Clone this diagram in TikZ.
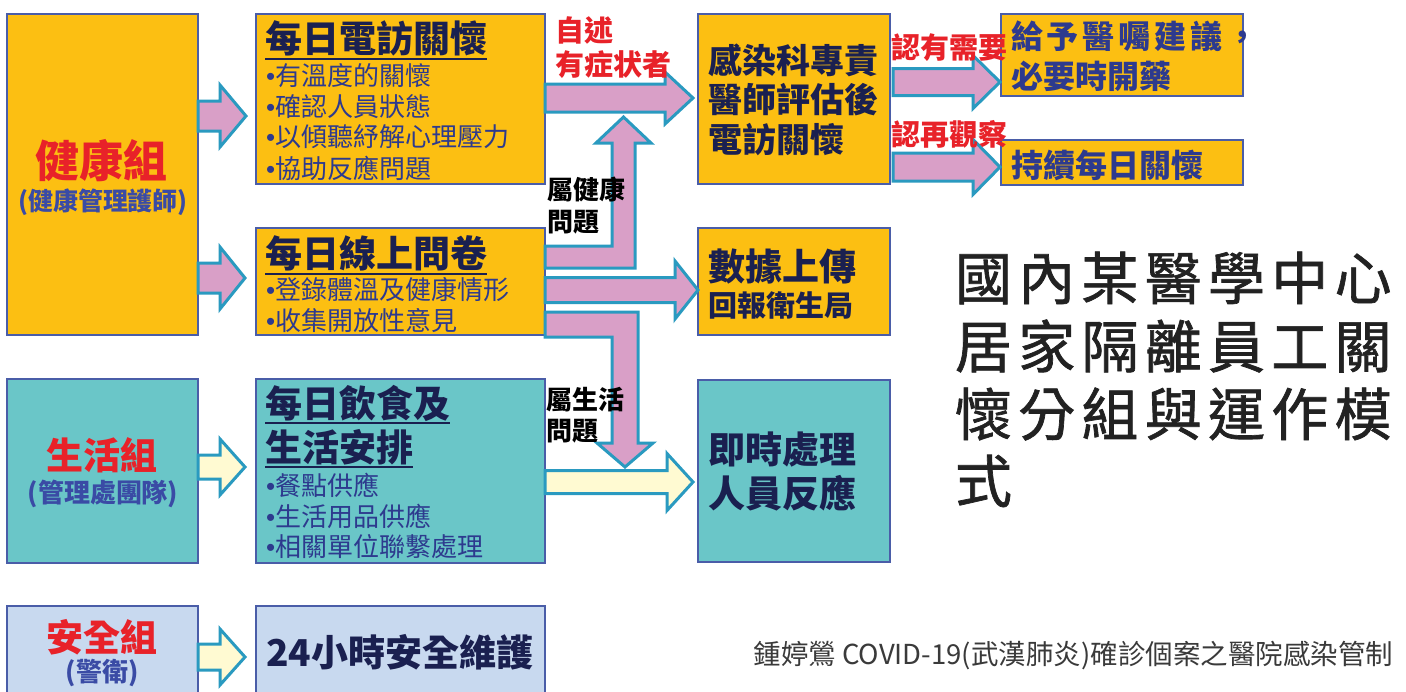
\documentclass[tikz,border=0pt]{standalone}
\usepackage{fontspec}
\setmainfont{Noto Sans CJK TC}
\newfontfamily\titlefont[FakeBold=1.2,LetterSpace=11]{Noto Sans CJK TC}
\newfontfamily\spacedfont[LetterSpace=12]{Noto Sans CJK TC}
\newfontfamily\dotfont{Liberation Sans}
\usetikzlibrary{calc}
\definecolor{orangebox}{HTML}{FCBF12}
\definecolor{tealbox}{HTML}{6AC6C8}
\definecolor{bluebox}{HTML}{C8D9EF}
\definecolor{boxline}{HTML}{4A5DA8}
\definecolor{pinkfill}{HTML}{D99FC7}
\definecolor{yelfill}{HTML}{FFFAD2}
\definecolor{arrowline}{HTML}{2A9AC0}
\definecolor{redtxt}{HTML}{E82229}
\definecolor{navytxt}{HTML}{1A2050}
\definecolor{bultxt}{HTML}{2D3A8E}
\definecolor{subtxt}{HTML}{3A4BA5}
\definecolor{titletxt}{HTML}{222222}
\definecolor{foottxt}{HTML}{3A3A3A}
\newcommand\fs[1]{\fontsize{#1}{#1}\selectfont}
\newcommand\bdot{{\dotfont •}}
% straight block arrow: style, from point, tip point, y centre, shaft half, head half, head length
\newcommand\barrow[7]{%
  \draw[#1] let \p1=(#2), \p2=(#3) in
    (\x1,#4+#5) -- (\x2-#7,#4+#5) -- (\x2-#7,#4+#6) -- (\x2,#4)
    -- (\x2-#7,#4-#6) -- (\x2-#7,#4-#5) -- (\x1,#4-#5) -- cycle;}
\tikzset{
  box/.style={draw=boxline, line width=1.3pt, anchor=north west, inner sep=0pt, outer sep=0pt},
  t/.style={inner sep=0pt, outer sep=0pt, anchor=west},
  c/.style={inner sep=0pt, outer sep=0pt, anchor=center},
  pinkarrow/.style={fill=pinkfill, draw=arrowline, line width=3pt, line join=miter},
  yelarrow/.style={fill=yelfill, draw=arrowline, line width=3pt, line join=miter},
  ul/.style={draw=navytxt, line width=2.4pt},
  head/.style={text=navytxt, font=\bfseries\fs{37}},
  bul/.style={text=bultxt, font=\fs{26}},
  redlab/.style={text=redtxt, font=\bfseries\fs{29}},
  blacklab/.style={text=black, font=\bfseries\fs{26}},
  advtxt/.style={text=bultxt, font=\bfseries\fs{32}},
}
\begin{document}
\begin{tikzpicture}[x=1pt,y=1pt]
\useasboundingbox (0,0) rectangle (1406,-691);
\fill[white] (0,0) rectangle (1406,-691);
\clip (0,0) rectangle (1406,-691);

% boxes
\node[box, fill=orangebox, minimum width=191, minimum height=321] (hz) at (7,-14) {};
\node[box, fill=tealbox, minimum width=191, minimum height=184] (sh) at (7,-379) {};
\node[box, fill=bluebox, minimum width=191, minimum height=110] (aq) at (7,-606) {};
\node[box, fill=orangebox, minimum width=289, minimum height=170] (tel) at (256,-14) {};
\node[box, fill=orangebox, minimum width=289, minimum height=107] (onl) at (256,-228) {};
\node[box, fill=tealbox, minimum width=289, minimum height=184] (food) at (256,-379) {};
\node[box, fill=bluebox, minimum width=289, minimum height=110] (sec) at (256,-606) {};
\node[box, fill=orangebox, minimum width=192, minimum height=170] (inf) at (698,-14) {};
\node[box, fill=orangebox, minimum width=192, minimum height=107] (data) at (698,-228) {};
\node[box, fill=tealbox, minimum width=192, minimum height=182] (resp) at (698,-380) {};
\node[box, fill=orangebox, minimum width=242, minimum height=82] (adv) at (1001,-14) {};
\node[box, fill=orangebox, minimum width=242, minimum height=45] (cont) at (1001,-140) {};

% block arrows
\barrow{pinkarrow}{hz.east}{[xshift=-10pt]tel.west}{-116}{15}{31}{26}
\barrow{pinkarrow}{hz.east}{[xshift=-11pt]onl.west}{-278}{15}{31}{25}
\barrow{yelarrow}{sh.east}{[xshift=-11pt]food.west}{-467}{12}{28}{25}
\barrow{yelarrow}{aq.east}{[xshift=-11pt]sec.west}{-657}{13}{28}{25}
\barrow{pinkarrow}{tel.east}{[xshift=-5pt]inf.west}{-98}{14}{26}{28}
\barrow{pinkarrow}{onl.east}{data.west}{-290}{12.5}{29}{23}
\barrow{yelarrow}{food.east}{[xshift=-5pt]resp.west}{-482}{11.5}{28.5}{26}
\barrow{pinkarrow}{[xshift=3pt]inf.east}{[xshift=-1pt]adv.west}{-82}{13.5}{26.5}{27}
\barrow{pinkarrow}{[xshift=3pt]inf.east}{[xshift=-1pt]cont.west}{-167}{14}{27.5}{27}
% elbow arrows
\draw[pinkarrow] let \p1=(onl.east) in
  (\x1,-246) -- (612,-246) -- (612,-143) -- (596,-143) -- (623.5,-117)
  -- (651,-143) -- (635,-143) -- (635,-268) -- (\x1,-268) -- cycle;
\draw[pinkarrow] let \p1=(onl.east) in
  (\x1,-312) -- (638,-312) -- (638,-443) -- (653,-443) -- (625,-467)
  -- (597,-443) -- (612,-443) -- (612,-337) -- (\x1,-337) -- cycle;

% left column texts
\node[c, text=redtxt, font=\bfseries\fs{44}] (hzT) at (101,-161) {健康組};
\node[c, text=subtxt, font=\bfseries\fs{25}] (hzS) at (103,-202) {(健康管理護師)};
\node[c, text=redtxt, font=\bfseries\fs{37}] (shT) at (102,-455) {生活組};
\node[c, text=subtxt, font=\bfseries\fs{26}] (shS) at (103,-494) {(管理處團隊)};
\node[c, text=redtxt, font=\bfseries\fs{37}] (aqT) at (102,-637) {安全組};
\node[c, text=subtxt, font=\bfseries\fs{26}] (aqS) at (102,-673) {(警衛)};

% second column texts
\node[t, head] (telH) at (265,-38) {每日電訪關懷};
\draw[ul] ([yshift=-7pt]telH.base west) -- ([yshift=-7pt]telH.base east);
\node[t, bul] (tel1) at (266,-76) {\bdot 有溫度的關懷};
\node[t, bul] (tel2) at (266,-107) {\bdot 確認人員狀態};
\node[t, bul] (tel3) at (266,-137) {\bdot 以傾聽紓解心理壓力};
\node[t, bul] (tel4) at (266,-168) {\bdot 協助反應問題};

\node[t, head] (onlH) at (265,-253) {每日線上問卷};
\draw[ul] ([yshift=-7pt]onlH.base west) -- ([yshift=-7pt]onlH.base east);
\node[t, bul] (onl1) at (266,-290) {\bdot 登錄體溫及健康情形};
\node[t, bul] (onl2) at (266,-321) {\bdot 收集開放性意見};

\node[t, head] (foodH1) at (265,-403) {每日飲食及};
\draw[ul] ([yshift=-6pt]foodH1.base west) -- ([yshift=-6pt]foodH1.base east);
\node[t, head] (foodH2) at (265,-447) {生活安排};
\draw[ul] ([yshift=-6pt]foodH2.base west) -- ([yshift=-6pt]foodH2.base east);
\node[t, bul] (food1) at (266,-485) {\bdot 餐點供應};
\node[t, bul] (food2) at (266,-516) {\bdot 生活用品供應};
\node[t, bul] (food3) at (266,-547) {\bdot 相關單位聯繫處理};

\node[t, head] (secT) at (266,-652) {24小時安全維護};

% middle labels
\node[t, redlab] (self1) at (555,-30) {自述};
\node[t, redlab] (self2) at (555,-65) {有症状者};
\node[t, blacklab] (hq1) at (547,-190) {屬健康};
\node[t, blacklab] (hq2) at (547,-222) {問題};
\node[t, blacklab] (lq1) at (546,-400) {屬生活};
\node[t, blacklab] (lq2) at (546,-431) {問題};

% third column texts
\node[t, text=navytxt, font=\bfseries\fs{34}] (inf1) at (708,-60) {感染科專責};
\node[t, text=navytxt, font=\bfseries\fs{34}] (inf2) at (708,-100) {醫師評估後};
\node[t, text=navytxt, font=\bfseries\fs{34}] (inf3) at (708,-140) {電訪關懷};
\node[t, text=navytxt, font=\bfseries\fs{37}] (data1) at (708,-267) {數據上傳};
\node[t, text=navytxt, font=\bfseries\fs{29}] (data2) at (708,-305) {回報衛生局};
\node[t, text=navytxt, font=\bfseries\fs{37}] (resp1) at (708,-450) {即時處理};
\node[t, text=navytxt, font=\bfseries\fs{37}] (resp2) at (708,-493) {人員反應};

% right labels and boxes
\node[t, redlab] (need) at (891,-48) {認有需要};
\node[t, redlab] (obs) at (891,-134) {認再觀察};
\node[t, text=bultxt, font=\spacedfont\bfseries\fs{32}] (adv1) at (1011,-36) {給予醫囑建議，};
\node[t, advtxt] (adv2) at (1011,-76) {必要時開藥};
\node[t, advtxt] (cont1) at (1011,-165) {持續每日關懷};

% title
\node[t, text=titletxt, font=\titlefont\fs{57}] (ti1) at (955,-278) {國內某醫學中心};
\node[t, text=titletxt, font=\titlefont\fs{57}] (ti2) at (955,-346) {居家隔離員工關};
\node[t, text=titletxt, font=\titlefont\fs{57}] (ti3) at (955,-414) {懷分組與運作模};
\node[t, text=titletxt, font=\titlefont\fs{57}] (ti4) at (955,-481) {式};

% footer
\node[inner sep=0pt, outer sep=0pt, anchor=east, text=foottxt, font=\fs{27.5}] (foot) at (1393,-655) {鍾婷鶯 COVID-19(武漢肺炎)確診個案之醫院感染管制};
\end{tikzpicture}
\end{document}
